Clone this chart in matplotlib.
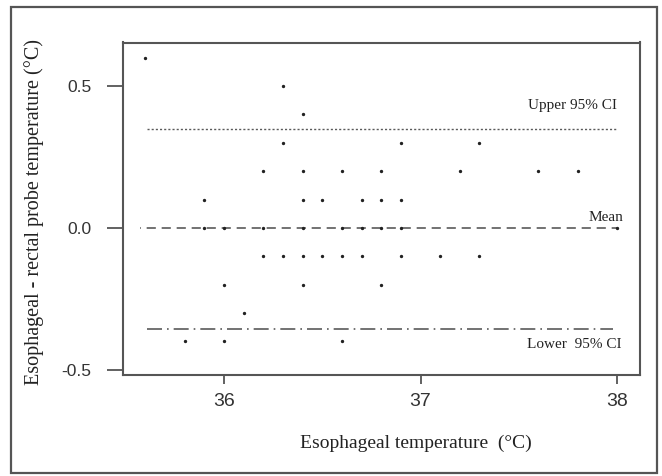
import matplotlib
matplotlib.use("Agg")
import matplotlib.pyplot as plt
from matplotlib.patches import Rectangle

# Bland-Altman style data: esophageal temp vs difference (esophageal - rectal)
esoph_temp = [35.6, 36.3, 36.4,
              36.3, 36.9, 37.3,
              36.2, 36.4, 36.6, 36.8, 37.2, 37.6, 37.8,
              35.9, 36.4, 36.5, 36.7, 36.8, 36.9,
              35.9, 36.0, 36.2, 36.4, 36.6, 36.7, 36.8, 36.9, 38.0,
              36.2, 36.3, 36.4, 36.5, 36.6, 36.7, 36.9, 37.1, 37.3,
              36.0, 36.4, 36.8,
              36.1,
              35.8, 36.0, 36.6]
temp_diff = [0.6, 0.5, 0.4,
             0.3, 0.3, 0.3,
             0.2, 0.2, 0.2, 0.2, 0.2, 0.2, 0.2,
             0.1, 0.1, 0.1, 0.1, 0.1, 0.1,
             0.0, 0.0, 0.0, 0.0, 0.0, 0.0, 0.0, 0.0, 0.0,
             -0.1, -0.1, -0.1, -0.1, -0.1, -0.1, -0.1, -0.1, -0.1,
             -0.2, -0.2, -0.2,
             -0.3,
             -0.4, -0.4, -0.4]

mean_diff = 0.0
upper_ci = 0.35
lower_ci = -0.355

W, H = 662, 476
fig = plt.figure(figsize=(W / 100, H / 100), dpi=100)
ax = fig.add_axes([123 / W, 1 - 374.7 / H, (640 - 123) / W, (374.7 - 42.5) / H])

# outer frame around the whole figure
fig.patches.append(Rectangle((11 / W, 1 - 473 / H), (657 - 11) / W, (473 - 7) / H,
                             transform=fig.transFigure, fill=False,
                             edgecolor="#555555", linewidth=1.6))

line_col = "#5a5a5a"
ax.plot([35.61, 38.0], [upper_ci, upper_ci], color=line_col, lw=1.0,
        linestyle=(0, (1.5, 1.5)))
ax.plot([35.57, 38.0], [mean_diff, mean_diff], color=line_col, lw=1.2,
        linestyle=(5, (5.5, 3.5)))
ax.plot([35.61, 37.98], [lower_ci, lower_ci], color=line_col, lw=1.2,
        linestyle=(0, (9, 3, 1, 3)))

ax.plot(esoph_temp, temp_diff, linestyle="none", marker="o", markersize=1.4,
        color="#222222")

serif = "Liberation Serif"
ax.text(38.0, 0.43, "Upper 95% CI", ha="right", va="center", family=serif,
        fontsize=11, color="#222222")
ax.text(38.035, 0.035, "Mean", ha="right", va="center", family=serif,
        fontsize=11, color="#222222")
ax.text(38.025, -0.41, "Lower  95% CI", ha="right", va="center", family=serif,
        fontsize=11, color="#222222")

ax.set_xlim(35.486, 38.117)
ax.set_ylim(-0.517, 0.653)
ax.set_xticks([36, 37, 38])
ax.set_xticklabels(["36", "37", "38"])
ax.set_yticks([-0.5, 0.0, 0.5])
ax.set_yticklabels(["-0.5", "0.0", "0.5"])

for sp in ax.spines.values():
    sp.set_color("#555555")
    sp.set_linewidth(1.5)

ax.tick_params(axis="x", length=6.5, width=1.3, color="#555555", pad=7,
               labelsize=14, labelcolor="#333333")
ax.tick_params(axis="y", length=11.5, width=1.3, color="#555555", pad=11,
               labelsize=12.5, labelcolor="#333333")
for lab in ax.get_xticklabels() + ax.get_yticklabels():
    lab.set_family("Liberation Sans")

ax.set_xlabel("Esophageal temperature  (°C)", family=serif, fontsize=14,
              color="#222222")
ax.xaxis.set_label_coords(0.567, -0.18)
ax.set_ylabel("Esophageal - rectal probe temperature (°C)", family=serif,
              fontsize=14.5, color="#222222")
ax.yaxis.set_label_coords(-0.152, 0.49)

fig.savefig("out.png", dpi=100)
